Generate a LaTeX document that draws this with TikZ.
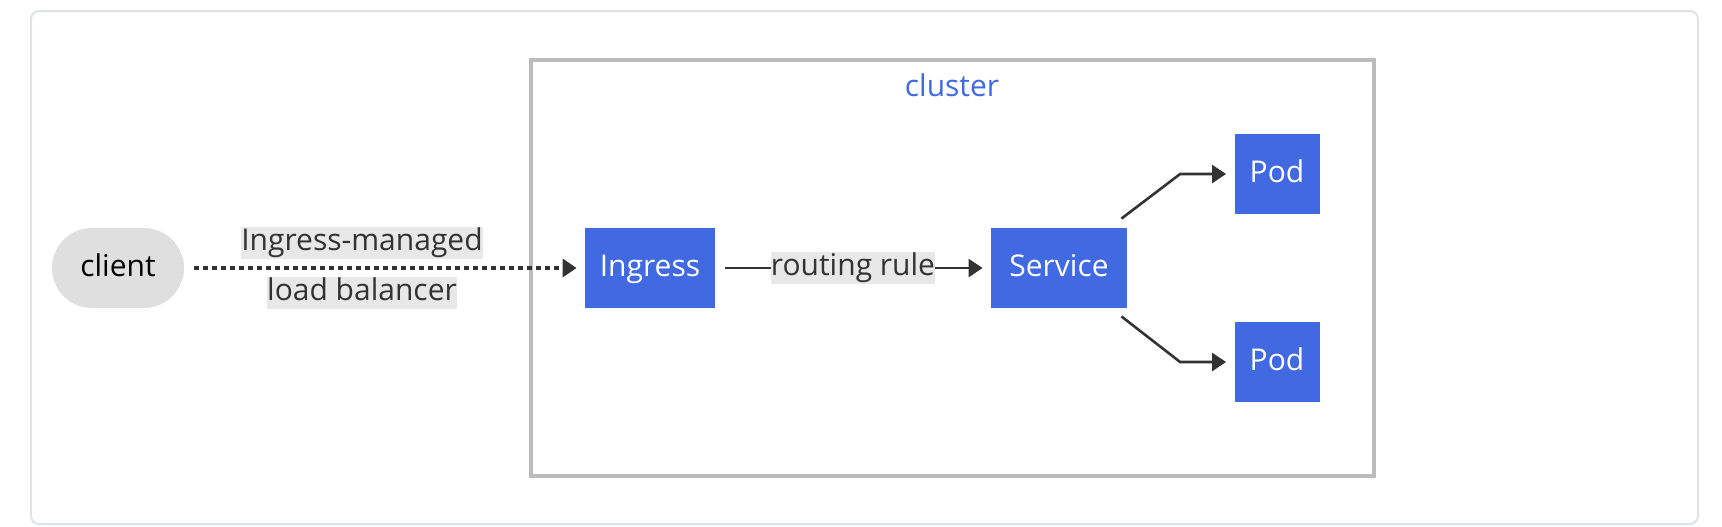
\documentclass[tikz,border=0pt]{standalone}
\usepackage{fontspec}
\setmainfont{Open Sans}
\usetikzlibrary{calc,arrows.meta}
\definecolor{royal}{HTML}{4169E1}
\definecolor{clustergray}{HTML}{BBBBBB}
\definecolor{framegray}{HTML}{DFE2E6}
\definecolor{clientgray}{HTML}{DFDFDF}
\definecolor{labelgray}{HTML}{E8E8E8}
\definecolor{ink}{HTML}{333333}
\tikzset{
	% ------- every something
	every picture/.style={
		x=0.5pt, y=-0.5pt,
	},
	every node/.style={
		font=\fontsize{15}{18}\selectfont,
	},
	% ------- custom
	box/.style={
		rectangle, fill=royal, text=white,
		minimum height=40pt, inner sep=0pt,
		text height=11.5pt, text depth=3pt,
	},
	client/.style={
		rectangle, fill=clientgray, text=black,
		rounded corners=20pt,
		minimum width=66pt, minimum height=40pt, inner sep=0pt,
		text height=11.5pt, text depth=3pt,
	},
	link/.style={
		ink, line width=1.3pt,
		-{Triangle[length=7pt,width=9pt]},
		shorten <=5pt, shorten >=4pt,
	},
	dotted link/.style={
		link, line width=2pt,
		dash pattern=on 2.5pt off 2pt,
	},
	edge label/.style={
		fill=labelgray, text=ink,
		inner xsep=0pt, inner ysep=0pt,
		text height=11.5pt, text depth=4.5pt,
	},
	cluster/.style={
		draw=clustergray, line width=2pt,
	},
	frame/.style={
		draw=framegray, line width=1pt, rounded corners=4pt,
	},
}
\begin{document}
\begin{tikzpicture}

% canvas %{{{1

	\useasboundingbox (0,0) rectangle (1722,526);
	\draw[frame] (31,11) rectangle (1698,524);

% cluster %{{{1

	\draw[cluster] (531,60) rectangle (1374,476);
	\node[royal, anchor=base] (clusterlabel) at (952,96) {cluster};

% nodes %{{{1

	\node[client] (client) at (118,268) {client};
	\node[box, minimum width=65pt] (ingress) at (650,268) {Ingress};
	\node[box, minimum width=68pt] (service) at (1059,268) {Service};
	\node[box, minimum width=42.5pt] (pod1) at (1277,174) {Pod};
	\node[box, minimum width=42.5pt] (pod2) at (1277,362) {Pod};

% bend points %{{{1

	\coordinate (svcup) at ($(service.north east)+(-6,-9)$);
	\coordinate (svcdown) at ($(service.south east)+(-6,8)$);
	\coordinate (bend1) at ($(pod1.west)+(-54,0)$);
	\coordinate (bend2) at ($(pod2.west)+(-54,0)$);

% connectors %{{{1

	\draw[dotted link] (client) -- (ingress);
	\draw[link] (ingress) -- node[edge label] (rule) {routing rule} (service);
	\draw[link, shorten <=0pt] (svcup) -- (bend1) -- (pod1);
	\draw[link, shorten <=0pt] (svcdown) -- (bend2) -- (pod2);

% connector labels %{{{1

	\node[edge label] (lb1) at (362,243) {Ingress-managed};
	\node[edge label] (lb2) at (362,293) {load balancer};

% closing %{{{1

\end{tikzpicture}
\end{document}
